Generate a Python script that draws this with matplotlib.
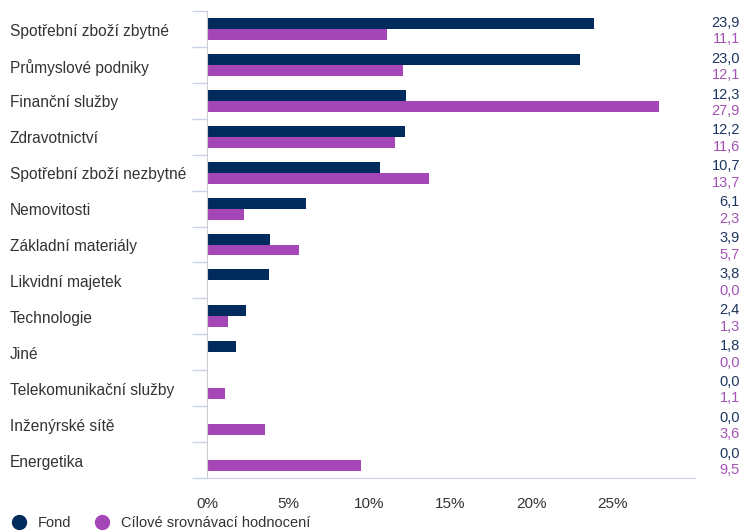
import matplotlib
matplotlib.use("Agg")
import matplotlib.pyplot as plt
from matplotlib.lines import Line2D
import matplotlib.transforms as mtransforms

plt.rcParams['font.family'] = ['Liberation Sans', 'DejaVu Sans']

categories = ["Spotřební zboží zbytné", "Průmyslové podniky", "Finanční služby",
              "Zdravotnictví", "Spotřební zboží nezbytné", "Nemovitosti",
              "Základní materiály", "Likvidní majetek", "Technologie", "Jiné",
              "Telekomunikační služby", "Inženýrské sítě", "Energetika"]
fond = [23.9, 23.0, 12.3, 12.2, 10.7, 6.1, 3.9, 3.8, 2.4, 1.8, 0.0, 0.0, 0.0]
bench = [11.1, 12.1, 27.9, 11.6, 13.7, 2.3, 5.7, 0.0, 1.3, 0.0, 1.1, 3.6, 9.5]
xticks = [0, 5, 10, 15, 20, 25]
series_names = ["Fond", "Cílové srovnávací hodnocení"]

NAVY = "#002b5c"
PURPLE = "#a546b6"
TXT = "#333333"
AXC = "#c9d3e6"

fig = plt.figure(figsize=(7.44, 5.32), dpi=100)
ax = fig.add_axes([207/744, 1-478/532, (695-207)/744, (478-11)/532])

n = len(categories)
h = 0.305
ys = list(range(n))
ax.barh([y - h/2 for y in ys], fond, height=h, color=NAVY)
ax.barh([y + h/2 for y in ys], bench, height=h, color=PURPLE)

ax.set_xlim(0, 30.1)
ax.set_ylim(n - 0.5, -0.5)

for s in ['top', 'right']:
    ax.spines[s].set_visible(False)
ax.spines['left'].set_color("#cccccc")
ax.spines['bottom'].set_color(AXC)

ax.set_yticks([y - 0.5 for y in range(n + 1)])
ax.set_yticklabels([])
ax.tick_params(axis='y', length=11, color=AXC, width=1)
ax.set_xticks(xticks)
ax.set_xticklabels([f"{t}%" for t in xticks], fontsize=11, color=TXT)
ax.tick_params(axis='x', length=0, pad=14)

trans_lab = mtransforms.blended_transform_factory(fig.transFigure, ax.transData)
for y, c in zip(ys, categories):
    ax.text(10/744, y + 0.06, c, transform=trans_lab, ha='left', va='center',
            fontsize=11.2, color=TXT)

for y, f, b in zip(ys, fond, bench):
    ax.text(740/744, y - 0.175, f"{f:.1f}".replace('.', ','), transform=trans_lab,
            ha='right', va='center', fontsize=10.5, color="#1c355e")
    ax.text(740/744, y + 0.285, f"{b:.1f}".replace('.', ','), transform=trans_lab,
            ha='right', va='center', fontsize=10.5, color="#a552b6")

handles = [Line2D([], [], marker='o', linestyle='', color=NAVY, markersize=10),
           Line2D([], [], marker='o', linestyle='', color=PURPLE, markersize=10)]
fig.legend(handles, series_names, loc='lower left', bbox_to_anchor=(-0.006, -0.012),
           ncol=2, frameon=False, fontsize=10.5, handletextpad=0.3,
           columnspacing=1.1, labelcolor=TXT, borderaxespad=0.2)

fig.savefig("out.png", dpi=100)
